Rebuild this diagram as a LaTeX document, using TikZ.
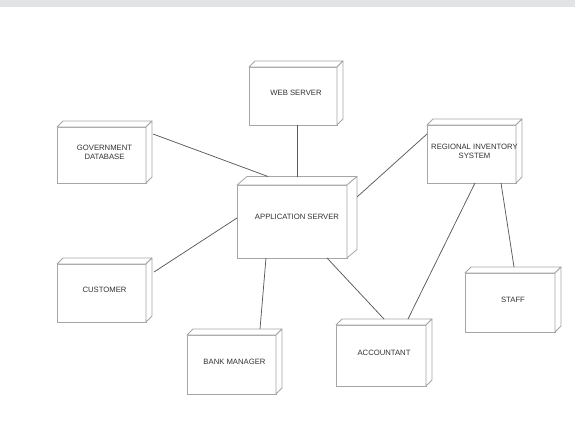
\documentclass[tikz,border=0pt]{standalone}
\usepackage{fontspec}
\setmainfont{Liberation Sans}
\definecolor{boxgray}{HTML}{A6A6A6}
\definecolor{linegray}{HTML}{5A5A5A}
\definecolor{txtgray}{HTML}{333333}
\definecolor{bargray}{HTML}{E2E3E5}
\tikzset{
  box3d/.style={draw=boxgray, fill=white, line width=0.8pt, inner sep=0pt, outer sep=0pt, rectangle},
  face/.style={draw=boxgray, fill=white, line width=0.8pt, line join=round},
  lbl/.style={text=txtgray, font=\fontsize{7.7}{9.3}\selectfont, align=center, inner sep=0pt},
  conn/.style={draw=linegray, line width=0.75pt}
}
% name, x1, y1, x2, y2, dx, dy, text
\newcommand{\boxthree}[8]{%
  \node[box3d, minimum width={(#4-#2)*1pt}, minimum height={(#5-#3)*1pt}] (#1) at ({(#2+#4)/2},{(#3+#5)/2}) {};
  \draw[face] (#1.north west) -- ++(#6,-#7) -- ([shift={(#6,-#7)}]#1.north east) -- (#1.north east) -- cycle;
  \draw[face] (#1.north east) -- ++(#6,-#7) -- ([shift={(#6,-#7)}]#1.south east) -- (#1.south east) -- cycle;
  \node[lbl] (#1-t) at ([shift={(#6/2,-#7/2)}]#1.center) {#8};
}
\begin{document}
\begin{tikzpicture}[x=1pt, y=-1pt]
\useasboundingbox (0,0) rectangle (575,436);
\fill[bargray] (0,0) rectangle (575,7);

\boxthree{web}{249}{67}{337}{125}{6}{6}{WEB SERVER}
\boxthree{gov}{57}{127}{146}{183}{6}{6}{GOVERNMENT\\DATABASE}
\boxthree{app}{237}{185}{347}{258}{10}{8.5}{APPLICATION SERVER}
\boxthree{reg}{427}{125}{516}{183}{6}{6}{REGIONAL INVENTORY\\SYSTEM}
\boxthree{cust}{57}{264}{146}{322}{6}{6}{CUSTOMER}
\boxthree{bank}{187}{335}{276}{394}{6}{6}{BANK MANAGER}
\boxthree{acc}{336}{325}{426}{386}{6}{6}{ACCOUNTANT}
\boxthree{staff}{465}{273}{555}{332}{6}{6}{STAFF}

\draw[conn] ([shift={(7,7)}]gov.north east) -- ([shift={(31,-8.5)}]app.north west);
\draw[conn] ([shift={(4,0)}]web.south) -- ([shift={(60,-8.5)}]app.north west);
\draw[conn] ([shift={(0,9)}]reg.north west) -- ([shift={(10,12)}]app.north east);
\draw[conn] ([shift={(8,8)}]cust.north east) -- ([shift={(0,33)}]app.north west);
\draw[conn] ([shift={(73,-6)}]bank.north west) -- ([shift={(29,0)}]app.south west);
\draw[conn] ([shift={(90,0)}]app.south west) -- ([shift={(48,-6)}]acc.north west);
\draw[conn] ([shift={(48,0)}]reg.south west) -- ([shift={(72,-6)}]acc.north west);
\draw[conn] ([shift={(74,0)}]reg.south west) -- ([shift={(49,-6)}]staff.north west);
\end{tikzpicture}
\end{document}
